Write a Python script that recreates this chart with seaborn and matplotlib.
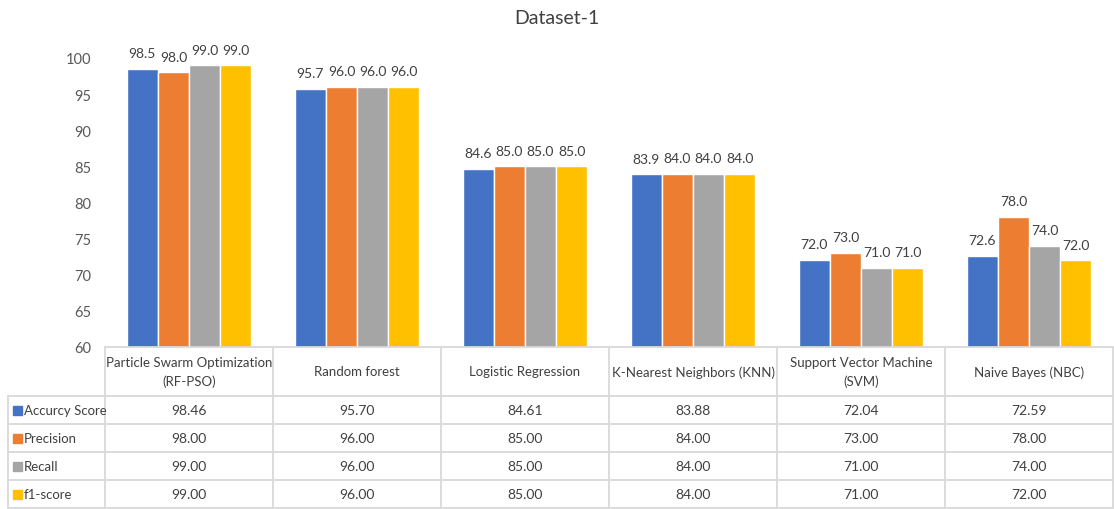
import matplotlib
matplotlib.use("Agg")
import matplotlib.pyplot as plt
import seaborn as sns
import pandas as pd
from matplotlib.lines import Line2D
from matplotlib.patches import Rectangle

models = ["Particle Swarm Optimization\n(RF-PSO)", "Random forest", "Logistic Regression",
          "K-Nearest Neighbors (KNN)", "Support Vector Machine\n(SVM)", "Naive Bayes (NBC)"]
metrics = ["Accurcy Score", "Precision", "Recall", "f1-score"]
accuracy = [98.46, 95.70, 84.61, 83.88, 72.04, 72.59]
precision = [98.00, 96.00, 85.00, 84.00, 73.00, 78.00]
recall = [99.00, 96.00, 85.00, 84.00, 71.00, 74.00]
f1 = [99.00, 96.00, 85.00, 84.00, 71.00, 72.00]
colors = ["#4472C4", "#ED7D31", "#A5A5A5", "#FFC000"]
yticks = [60, 65, 70, 75, 80, 85, 90, 95, 100]

series = [accuracy, precision, recall, f1]
rows = []
for m, vals in zip(metrics, series):
    for mod, v in zip(models, vals):
        rows.append({"model": mod, "metric": m, "value": v})
df = pd.DataFrame(rows)

sns.set_style("white")
plt.rcParams["font.family"] = ["Lato", "DejaVu Sans"]
fs = 9.5

W, H = 1114, 510
fig = plt.figure(figsize=(W / 100, H / 100), dpi=100)

def fx(x):
    return x / W

def fy(y):
    return 1 - y / H

ax_left, ax_right, ax_top, ax_bot = 105, 1113, 59, 348
ax = fig.add_axes([fx(ax_left), fy(ax_bot), fx(ax_right - ax_left), fy(ax_top) - fy(ax_bot)])

sns.barplot(data=df, x="model", y="value", hue="metric", order=models, hue_order=metrics,
            palette=colors, width=0.74, ax=ax, legend=False, saturation=1, errorbar=None)
ax.set_ylim(60, 100)
ax.set_xlim(-0.5, len(models) - 0.5)
ax.set_yticks(yticks)
ax.set_yticklabels([str(t) for t in yticks], fontsize=10.5, color="#595959")
ax.tick_params(axis="y", length=0, pad=10)
ax.set_xticks([])
ax.set_xlabel("")
ax.set_ylabel("")
for s in ["top", "right", "left", "bottom"]:
    ax.spines[s].set_visible(False)

for cont in ax.containers:
    ax.bar_label(cont, fmt="%.1f", padding=7, fontsize=10, color="#404040")

fig.text(0.5, fy(18), "Dataset-1", ha="center", va="center", fontsize=14, color="#404040")

# data table
gc = "#D9D9D9"
col_w = (ax_right - ax_left) / len(models)
col_edges = [ax_left + i * col_w for i in range(len(models) + 1)]
row_edges = [348, 397, 425, 453, 481, 509]
label_left = 8

def hline(x0, x1, y):
    fig.add_artist(Line2D([fx(x0), fx(x1)], [fy(y), fy(y)], color=gc, lw=1.3))

def vline(x, y0, y1):
    fig.add_artist(Line2D([fx(x), fx(x)], [fy(y0), fy(y1)], color=gc, lw=1.3))

hline(ax_left, ax_right, row_edges[0])
for y in row_edges[1:]:
    hline(label_left, ax_right, y)
for x in col_edges:
    vline(x, row_edges[0], row_edges[-1])
vline(label_left, row_edges[1], row_edges[-1])

for i, mod in enumerate(models):
    cx = (col_edges[i] + col_edges[i + 1]) / 2
    cy = (row_edges[0] + row_edges[1]) / 2
    fig.text(fx(cx), fy(cy), mod, ha="center", va="center", fontsize=fs,
             color="#404040", linespacing=1.6)

for r, (m, vals, c) in enumerate(zip(metrics, series, colors)):
    cy = (row_edges[r + 1] + row_edges[r + 2]) / 2
    fig.add_artist(Rectangle((fx(13), fy(cy + 4.5)), fx(9), fy(cy - 4.5) - fy(cy + 4.5),
                             color=c, transform=fig.transFigure))
    fig.text(fx(24), fy(cy), m, ha="left", va="center", fontsize=fs, color="#404040")
    for i, v in enumerate(vals):
        cx = (col_edges[i] + col_edges[i + 1]) / 2
        fig.text(fx(cx), fy(cy), f"{v:.2f}", ha="center", va="center", fontsize=fs + 0.5,
                 color="#404040")

fig.savefig("out.png", dpi=100)
